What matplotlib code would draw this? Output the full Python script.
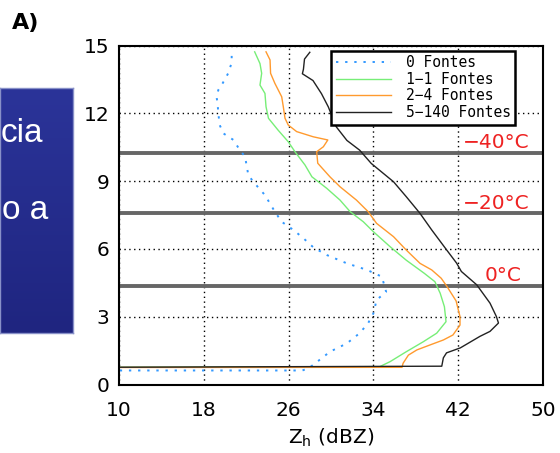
import matplotlib.pyplot as plt
import numpy as np

# reflectivity profiles: height (km) vs Zh (dBZ), grouped by number of sources
h_0 = [14.54, 14.24, 13.77, 13.33, 13.03, 12.73, 12.44, 12.0, 11.48, 11.11, 10.82,
       10.37, 10.08, 9.79, 9.27, 8.97, 8.38, 7.65, 7.2, 6.84, 6.47, 6.07, 5.73,
       5.36, 5.07, 4.77, 4.1, 3.74, 3.15, 2.71, 2.27, 1.82, 1.45, 0.86, 0.72,
       0.62, 0.62]
z_0 = [20.63, 20.63, 20.3, 19.78, 19.37, 19.2, 19.3, 19.37, 19.5, 19.85, 20.8,
       21.4, 21.9, 22.0, 22.2, 22.67, 23.77, 24.7, 25.35, 26.45, 27.4, 28.33, 29.6,
       31.5, 33.4, 34.8, 35.2, 34.3, 34.0, 33.5, 32.7, 31.5, 29.9, 28.3, 27.85,
       27.3, 0.0]

h_1 = [14.72, 14.2, 13.77, 13.25, 12.88, 12.29, 11.78, 11.26, 10.74, 10.3, 9.71,
       9.19, 8.68, 8.16, 7.65, 7.2, 6.76, 6.1, 5.5, 4.92, 4.55, 4.04, 3.44, 2.78,
       2.27, 1.89, 1.45, 1.01, 0.79, 0.75]
z_1 = [22.8, 23.3, 23.46, 23.3, 23.77, 23.87, 24.1, 25.0, 25.97, 26.6, 27.55,
       28.2, 29.6, 30.85, 31.8, 33.05, 34.0, 35.57, 37.1, 38.8, 39.8, 40.3, 40.7,
       40.85, 39.97, 38.7, 37.1, 35.57, 34.6, 0.0]

h_2 = [14.72, 14.36, 13.77, 13.33, 12.73, 12.29, 11.78, 11.48, 11.19, 10.96, 10.82,
       10.52, 10.3, 9.79, 9.19, 8.75, 8.16, 7.65, 7.13, 6.54, 5.95, 5.36, 5.07, 4.7,
       4.33, 3.7, 3.0, 2.63, 2.19, 1.97, 1.75, 1.53, 1.3, 0.94, 0.76, 0.75]
z_2 = [23.87, 24.25, 24.3, 24.7, 25.35, 25.5, 25.66, 25.97, 26.76, 28.33, 29.7,
       29.28, 28.65, 28.75, 29.9, 30.85, 32.4, 33.5, 34.3, 35.9, 37.1, 38.4, 39.5,
       40.4, 40.95, 41.8, 42.17, 42.17, 41.5, 40.6, 39.34, 38.1, 37.3, 36.8, 36.7,
       0.0]

h_5 = [14.7, 14.4, 13.95, 13.75, 13.45, 12.87, 12.28, 11.4, 10.8, 10.37, 9.78,
       8.97, 8.31, 7.57, 6.84, 5.96, 5.37, 5.0, 4.41, 3.6, 3.01, 2.72, 2.35, 2.13,
       1.62, 1.4, 1.18, 0.81, 0.75]
z_5 = [28.0, 27.5, 27.4, 27.3, 28.3, 29.1, 29.75, 30.5, 31.5, 32.7, 33.8,
       35.9, 37.1, 38.4, 39.5, 40.9, 41.85, 42.3, 43.75, 45.0, 45.6, 45.8, 45.0,
       44.05, 42.2, 40.9, 40.6, 40.45, 0.0]

labels = ['0 Fontes', '1\u22121 Fontes', '2\u22124 Fontes', '5\u2212140 Fontes']

# isotherm heights (km)
iso_h = [10.26, 7.57, 4.36]
iso_lbl = ['\u221240\u00b0C', '\u221220\u00b0C', '0\u00b0C']
iso_x = [42.4, 42.4, 44.5]

fig = plt.figure(figsize=(5.6, 4.53), dpi=100)

# slide panel behind on the left
bx = fig.add_axes([0, 1 - 333 / 453, 73 / 560, (333 - 88) / 453])
grad = np.linspace(0, 1, 100).reshape(-1, 1)
bx.imshow(grad, aspect='auto', cmap=plt.matplotlib.colors.LinearSegmentedColormap.from_list(
    'slide', ['#2b3499', '#1f2580']), extent=[0, 1, 0, 1])
bx.set_xticks([])
bx.set_yticks([])
for s in bx.spines.values():
    s.set_color('#8890c8')
    s.set_linewidth(1)
slide_font = ['Liberation Sans Narrow', 'Liberation Sans']
fig.text(1 / 560, 1 - 133 / 453, 'cia', color='white', fontsize=24,
         family=slide_font, ha='left', va='center')
fig.text(2 / 560, 1 - 211 / 453, 'o a', color='white', fontsize=24,
         family=slide_font, ha='left', va='center')

fig.text(12 / 560, 1 - 23 / 453, 'A)', fontsize=16, fontweight='bold',
         ha='left', va='center')

ax = fig.add_axes([119 / 560, 1 - 384.5 / 453, 424 / 560, 339 / 453])

ax.plot(z_0, h_0, color='#3399ff', lw=1.4, ls=(0, (1.2, 3.5)), label=labels[0])
ax.plot(z_1, h_1, color='#77ee77', lw=1.0, label=labels[1])
ax.plot(z_2, h_2, color='#ff9a2e', lw=1.0, label=labels[2])
ax.plot(z_5, h_5, color='#222222', lw=1.0, label=labels[3])

for y, t, x in zip(iso_h, iso_lbl, iso_x):
    ax.axhline(y, color='#666666', lw=2.8, zorder=1)
    ax.text(x, y + 0.45, t, color='#ee2222', fontsize=14.5, ha='left', va='center')

ax.set_xlim(10, 50)
ax.set_ylim(0, 15)
ax.set_xticks([10, 18, 26, 34, 42, 50])
ax.set_yticks([0, 3, 6, 9, 12, 15])
ax.tick_params(length=0, labelsize=14.5)
ax.tick_params(axis='x', pad=12)
ax.tick_params(axis='y', pad=7)
ax.grid(True, color='black', ls=(0, (1, 2.5)), lw=1.0)
ax.set_axisbelow(True)
for s in ax.spines.values():
    s.set_linewidth(1.5)
ax.set_xlabel(r'Z$_\mathrm{h}$ (dBZ)', fontsize=14.5, labelpad=5)

leg = ax.legend(loc='upper right', bbox_to_anchor=(0.934, 0.985),
                borderaxespad=0,
                prop={'family': 'DejaVu Sans Mono', 'size': 10.5},
                handlelength=3.8, handletextpad=1.0, labelspacing=0.12,
                borderpad=0.3, fancybox=False, framealpha=1)
leg.get_frame().set_edgecolor('black')
leg.get_frame().set_linewidth(1.8)

plt.savefig('out.png', dpi=100)
